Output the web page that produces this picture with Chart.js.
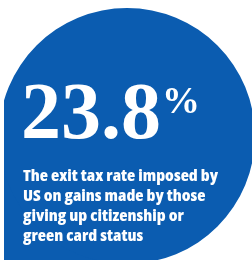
<!DOCTYPE html>
<html>
<head>
<meta charset="utf-8">
<script src="https://cdn.jsdelivr.net/npm/chart.js@4"></script>
<style>
    html, body { margin: 0; padding: 0; background: #fff; }
    body { width: 252px; height: 260px; overflow: hidden; position: relative; }
    #wrap { position: absolute; left: -1px; top: 8px; width: 256px; height: 256px; }
    .big { position: absolute; color: #fff; font-family: "Liberation Serif", "Times New Roman", serif; font-weight: bold; white-space: nowrap; }
    #numero { left: 21px; top: 71px; font-size: 80px; line-height: 80px; }
    #pct { left: 162px; top: 81px; font-size: 38px; line-height: 38px; }
    #legenda { position: absolute; left: 23px; top: 165px; color: #fff; font-family: "Open Sans", sans-serif; font-stretch: 75%; font-weight: 800; font-size: 16px; line-height: 20px; white-space: nowrap; transform-origin: 0 0; }
</style>
</head>
<body>
<div id="wrap"><canvas id="myChart"></canvas></div>
<div id="numero" class="big"></div>
<div id="pct" class="big"></div>
<div id="legenda"></div>
<script>
// dados
const categorias = ['Exit tax rate'];
const valores = [23.8];
const unidade = '%';
const legendaLinhas = [
    'The exit tax rate imposed by',
    'US on gains made by those',
    'giving up citizenship or',
    'green card status'
];

const azul = '#0b5cb0';

document.getElementById('numero').textContent = valores[0].toFixed(1);
document.getElementById('pct').textContent = unidade;
const legenda = document.getElementById('legenda');
legenda.innerHTML = legendaLinhas.join('<br>');

// aperta a legenda para a largura da primeira linha do original (~195px)
const largura = legenda.getBoundingClientRect().width;
legenda.style.transform = 'scaleX(' + (195 / largura) + ')';

// bloco azul no canto inferior esquerdo + corte da margem esquerda
const fundoPlugin = {
    id: 'fundo',
    beforeDatasetsDraw(chart) {
        const ctx = chart.ctx;
        const arc = chart.getDatasetMeta(0).data[0];
        ctx.save();
        ctx.beginPath();
        ctx.rect(5, 0, chart.width, chart.height);
        ctx.clip();
        ctx.fillStyle = azul;
        ctx.fillRect(5, arc.y, arc.x - 5, chart.height - arc.y);
    },
    afterDatasetsDraw(chart) {
        chart.ctx.restore();
    }
};

const ctx = document.getElementById('myChart').getContext('2d');
const myChart = new Chart(ctx, {
    type: 'pie',
    data: {
        labels: categorias,
        datasets: [{
            data: valores,
            backgroundColor: azul,
            borderWidth: 0,
            hoverOffset: 0,
            offset: 0
        }]
    },
    options: {
        responsive: true,
        maintainAspectRatio: false,
        animation: false,
        events: [],
        layout: { padding: 0 },
        plugins: {
            legend: { display: false },
            tooltip: { enabled: false }
        }
    },
    plugins: [fundoPlugin]
});
</script>
</body>
</html>
